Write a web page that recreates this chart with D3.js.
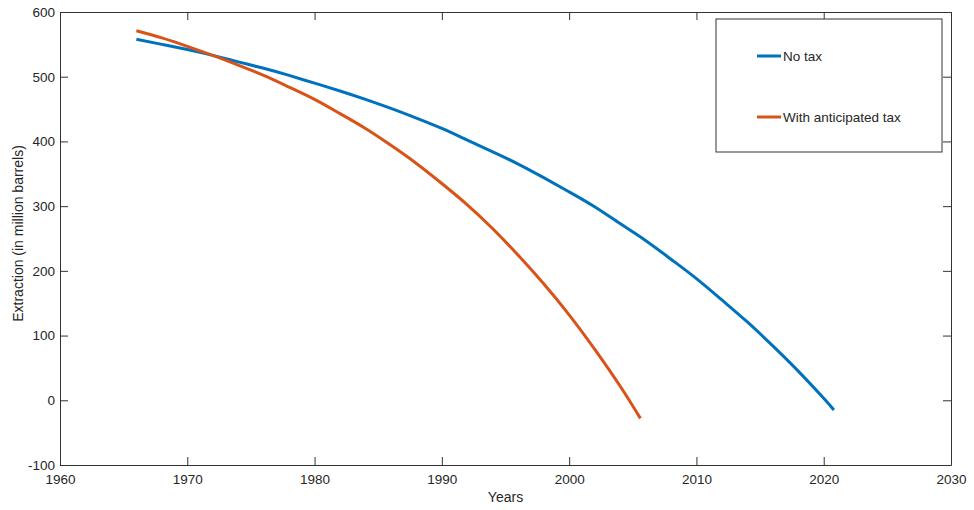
<!DOCTYPE html>
<html>
<head>
<meta charset="utf-8">
<script src="https://cdn.jsdelivr.net/npm/d3@7"></script>
<style>
  html, body { margin: 0; padding: 0; background: #ffffff; }
  svg { display: block; font-family: "Liberation Sans", Arial, Helvetica, sans-serif; }
</style>
</head>
<body>
<svg id="chart" width="974" height="510"></svg>
<script>
// ---- Data ----
const seriesNames = ["No tax", "With anticipated tax"];
const seriesColors = ["#0072BD", "#D95319"];

const noTaxYears = [1966, 1968, 1970, 1972, 1974, 1976, 1978, 1980, 1982, 1984, 1986, 1988, 1990, 1992, 1994, 1996, 1998, 2000, 2002, 2004, 2006, 2008, 2010, 2012, 2014, 2016, 2018, 2020, 2020.8];
const noTaxValues = [558, 550, 542, 533, 523, 513, 502, 490, 478, 465, 451, 436, 420, 402, 384, 365, 344, 322, 299, 273, 247, 218, 188, 155, 121, 84, 45, 3, -15];

const taxYears = [1966, 1968, 1970, 1972, 1974, 1976, 1978, 1980, 1982, 1984, 1986, 1988, 1990, 1992, 1994, 1996, 1998, 2000, 2002, 2004, 2005.6];
const taxValues = [571, 560, 547, 533, 518, 502, 484, 465, 443, 420, 394, 366, 335, 302, 265, 224, 180, 132, 79, 22, -28];

const xTicks = [1960, 1970, 1980, 1990, 2000, 2010, 2020, 2030];
const yTicks = [-100, 0, 100, 200, 300, 400, 500, 600];

const xLabel = "Years";
const yLabel = "Extraction (in million barrels)";

// ---- Layout ----
const svg = d3.select("#chart");
const mLeft = 60, mRight = 951, mTop = 12, mBottom = 465;
const axisColor = "#333333";
const textColor = "#262626";
const fontSize = 13.5;

const x = d3.scaleLinear().domain([1960, 2030]).range([mLeft, mRight]);
const y = d3.scaleLinear().domain([-100, 600]).range([mBottom, mTop]);

// Axes (MATLAB style: inward ticks on all four sides, box on)
function styleAxis(g) {
  g.select(".domain").attr("stroke", axisColor).attr("stroke-width", 1);
  g.selectAll(".tick line").attr("stroke", axisColor).attr("stroke-width", 1);
  g.selectAll(".tick text").attr("fill", textColor).style("font-size", fontSize + "px");
}

const plainFormat = d => String(d);

svg.append("g")
  .attr("transform", `translate(0,${mBottom})`)
  .call(d3.axisBottom(x).tickValues(xTicks).tickFormat(plainFormat).tickSizeInner(-8).tickSizeOuter(0).tickPadding(9))
  .call(styleAxis);

svg.append("g")
  .attr("transform", `translate(0,${mTop})`)
  .call(d3.axisTop(x).tickValues(xTicks).tickFormat("").tickSizeInner(-8).tickSizeOuter(0))
  .call(styleAxis);

svg.append("g")
  .attr("transform", `translate(${mLeft},0)`)
  .call(d3.axisLeft(y).tickValues(yTicks).tickFormat(plainFormat).tickSizeInner(-8).tickSizeOuter(0).tickPadding(5))
  .call(styleAxis);

svg.append("g")
  .attr("transform", `translate(${mRight},0)`)
  .call(d3.axisRight(y).tickValues(yTicks).tickFormat("").tickSizeInner(-8).tickSizeOuter(0))
  .call(styleAxis);

// Axis titles
svg.append("text")
  .attr("x", (mLeft + mRight) / 2)
  .attr("y", 502)
  .attr("text-anchor", "middle")
  .attr("fill", textColor)
  .style("font-size", "14px")
  .text(xLabel);

svg.append("text")
  .attr("transform", `translate(23,${(mTop + mBottom) / 2 - 5}) rotate(-90)`)
  .attr("text-anchor", "middle")
  .attr("fill", textColor)
  .style("font-size", "14px")
  .text(yLabel);

// Lines
const line = d3.line()
  .x(d => x(d[0]))
  .y(d => y(d[1]))
  .curve(d3.curveNatural);

const series = [
  noTaxYears.map((t, i) => [t, noTaxValues[i]]),
  taxYears.map((t, i) => [t, taxValues[i]])
];

series.forEach((pts, i) => {
  svg.append("path")
    .datum(pts)
    .attr("d", line)
    .attr("fill", "none")
    .attr("stroke", seriesColors[i])
    .attr("stroke-width", 3)
    .attr("stroke-linejoin", "round");
});

// Legend
const lg = svg.append("g");
lg.append("rect")
  .attr("x", 716).attr("y", 19)
  .attr("width", 226).attr("height", 133)
  .attr("fill", "#ffffff")
  .attr("stroke", axisColor)
  .attr("stroke-width", 1);

const legendRows = [56, 117];
seriesNames.forEach((name, i) => {
  lg.append("line")
    .attr("x1", 757).attr("x2", 781)
    .attr("y1", legendRows[i]).attr("y2", legendRows[i])
    .attr("stroke", seriesColors[i])
    .attr("stroke-width", 3);
  lg.append("text")
    .attr("x", 783)
    .attr("y", legendRows[i])
    .attr("dy", "0.35em")
    .attr("fill", textColor)
    .style("font-size", "13.5px")
    .text(name);
});
</script>
</body>
</html>
